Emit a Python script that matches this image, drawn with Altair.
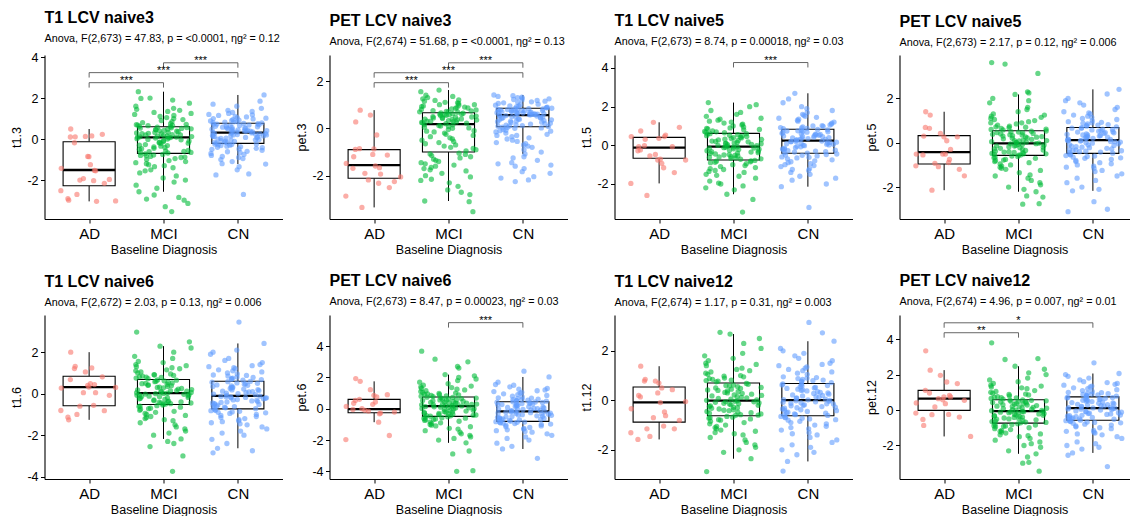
import altair as alt
import pandas as pd

FONT = "Liberation Sans"
GROUPS = ["AD", "MCI", "CN"]
COLORS = ["#F8766D", "#00BA38", "#619CFF"]

# ---------------- T1 LCV naive3 (t1.3) ----------------
t13_AD = [0.49, 0.11, 0.13, 0.15, 0.23, 0.1, -0.18, -0.86, -0.85, -1.25, -1.43, -1.53, -1.55, -1.93, -1.97,
          -2.0, -2.03, -2.16, -2.52, -2.7, -2.91, -2.98, -3.02, -3.04]
t13_MCI = [-0.65, -0.2, 0.05, -0.45, -0.1, -0.58, 0.0, -0.32, -0.68, -0.15, 0.07, -0.5, -0.27, -0.04, -0.62,
           -0.38, 0.02, -0.22, -0.55, -0.08, -0.41, -0.12, -0.66, -0.3, 0.06, -0.47, -0.18, -0.6, -0.35, -0.02,
           0.12, 0.45, 0.3, 0.58, 0.2, 0.38, 0.1, 0.52, 0.25, 0.15, 0.48, 0.33, 0.56, 0.18, 0.42, 0.09, 0.28, 0.5,
           0.22, 0.36, 0.55, 0.14, 0.4, 0.26, 0.6, 0.32, 0.11, 0.46, 0.2, 0.53,
           -0.8, -1.1, -0.75, -1.5, -0.9, -2.1, -1.3, -0.85, -1.8, -1.0, -2.4, -0.78, -1.2, -1.65, -0.95, -2.57,
           -1.4, -0.72, -1.05, -2.0, -1.25, -0.88, -1.55, -2.25, -1.15, -0.82, -1.9, -1.35,
           0.7, 1.0, 0.65, 1.4, 0.8, 1.9, 1.1, 0.75, 1.6, 0.9, 2.31, 0.68, 1.25, 1.5, 0.85, 1.98, 1.2, 0.62, 1.05,
           1.75, 1.3, 0.72, 1.45, 2.0, 0.95, 0.66, 1.15, 1.35,
           -2.98, -3.14, -3.54, -2.93, -2.73, -3.3, -2.85]
t13_CN = [-0.15, 0.2, 0.05, 0.28, -0.05, 0.12, -0.18, 0.25, 0.0, 0.15, -0.1, 0.3, 0.08, -0.2, 0.18, 0.03, 0.22,
          -0.12, 0.1, 0.27, -0.02, 0.16, -0.08, 0.24, 0.06, -0.16, 0.2, 0.13, -0.04, 0.29,
          0.35, 0.6, 0.45, 0.75, 0.4, 0.55, 0.33, 0.7, 0.5, 0.38, 0.65, 0.42, 0.72, 0.48, 0.58, 0.36, 0.63, 0.52,
          0.76, 0.44, 0.68, 0.34, 0.57, 0.47, 0.73, 0.39, 0.62, 0.54, 0.66, 0.41,
          -0.3, -0.5, -0.25, -0.8, -0.4, -1.0, -0.6, -0.28, -1.2, -0.45, -0.7, -0.35, -0.9, -0.24, -0.55, -1.1,
          -0.65, -0.32, -0.75, -0.48, -1.22, -0.38, -0.85, -0.27, -0.62, -0.95, -0.42,
          0.85, 1.1, 0.8, 1.5, 0.95, 1.3, 0.82, 2.15, 1.0, 1.2, 0.9, 1.85, 1.05, 0.88, 1.4, 1.15, 0.79, 1.25, 0.98,
          1.6, 0.84, 1.08, 1.35, 0.92, 1.18, 1.7, 1.02,
          -1.35, -1.5, -1.7, -1.75, -2.7]
t13_box = [[-3.04, -2.28, -1.51, -0.13, 0.49], [-2.57, -0.70, 0.08, 0.60, 2.31], [-1.22, -0.21, 0.31, 0.77, 2.15]]
t13_br = [("AD", "MCI", 2.75, "***"), ("AD", "CN", 3.24, "***"), ("MCI", "CN", 3.72, "***")]

# ---------------- PET LCV naive3 (pet.3) ----------------
p3_AD = [0.27, 0.77, 0.56, -0.28, -1.13, -0.89, -0.86, -0.87, -1.1, -1.59, -1.48, -1.66, -1.93, -2.18, -2.25,
         -1.9, -2.32, -2.5, -2.86, -3.34, -1.69, -1.2, -2.05]
p3_MCI = [-0.9, -0.3, 0.1, -0.6, -0.1, -0.8, 0.0, -0.45, 0.15, -0.2, -0.7, 0.05, -0.35, -0.95, -0.15, 0.12, -0.5,
          -0.25, -0.85, 0.08, -0.4, -0.05, -0.65, 0.16, -0.55, -0.12, -0.75, 0.02,
          0.2, 0.5, 0.35, 0.65, 0.25, 0.45, 0.3, 0.6, 0.4, 0.22, 0.55, 0.38, 0.62, 0.28, 0.48, 0.33, 0.58, 0.24,
          0.44, 0.52, 0.36, 0.64, 0.27, 0.42, 0.57, 0.31, 0.47, 0.6, 0.39, 0.54,
          -1.1, -1.5, -2.0, -1.2, -2.6, -1.35, -1.8, -1.05, -2.3, -1.6, -2.7, -1.15, -1.9, -1.4, -2.15, -3.07,
          -1.25, -1.7, -2.45, -1.08, -1.55, -2.05, -1.3, -2.8, -1.75, -1.45, -2.2, -1.65,
          0.7, 1.0, 0.8, 1.2, 0.75, 0.9, 1.3, 0.68, 1.1, 0.85, 1.55, 0.72, 0.95, 1.25, 0.78, 1.05, 0.88, 1.4, 0.7,
          1.15, 0.82, 1.0, 1.62, 0.74, 0.92, 1.18, 0.86, 1.08, 0.98, 1.35,
          -3.1, -3.52]
p3_CN = [0.1, 0.4, 0.25, 0.55, 0.15, 0.35, 0.5, 0.2, 0.45, 0.08, 0.3, 0.52, 0.18, 0.42, 0.28, 0.54, 0.12, 0.38,
         0.48, 0.22, 0.33, 0.5, 0.14, 0.44, 0.26, 0.53, 0.36, 0.09, 0.46, 0.31,
         0.6, 0.75, 0.65, 0.82, 0.58, 0.7, 0.8, 0.62, 0.77, 0.68, 0.84, 0.59, 0.72, 0.66, 0.79, 0.63, 0.74, 0.57,
         0.83, 0.69, 0.61, 0.76, 0.64, 0.81, 0.71, 0.6, 0.78, 0.67, 0.73, 0.85,
         0.0, -0.3, -0.1, -0.6, 0.05, -0.2, -0.8, -0.05, -0.45, -1.0, -0.15, -0.35, -0.7, 0.02, -0.25, -0.55,
         -1.08, -0.08, -0.4, -0.9, -0.12, -0.65, 0.04, -0.3, -0.5, -0.75,
         0.9, 1.2, 1.0, 1.35, 0.88, 1.1, 1.3, 0.95, 1.25, 1.05, 1.41, 0.92, 1.15, 1.28, 0.98, 1.38, 1.08, 0.87,
         1.22, 1.02, 1.32, 0.94, 1.12, 1.18,
         -1.2, -1.35, -1.5, -1.55, -1.7, -1.83, -2.04, -2.1, -2.18, -2.25, -1.25, -1.6, -1.45, -1.9]
p3_box = [[-3.34, -2.11, -1.55, -0.90, 0.77], [-3.07, -1.00, 0.18, 0.66, 1.62], [-1.08, 0.07, 0.56, 0.85, 1.41]]
p3_br = [("AD", "MCI", 1.93, "***"), ("AD", "CN", 2.35, "***"), ("MCI", "CN", 2.77, "***")]

# ---------------- T1 LCV naive5 (t1.5) ----------------
t15_AD = [0.74, 0.31, -0.47, -0.93, -0.07, -0.24, -0.02, 0.36, -0.76, -0.71, 0.45, 0.45, 0.53, 1.19, 0.93,
          -0.55, -1.16, -1.41, -1.97, -2.59, -0.28, -0.07, -0.76]
t15_MCI = [-0.7, -0.3, -0.1, -0.5, -0.2, -0.65, -0.4, -0.08, -0.55, -0.25, -0.72, -0.15, -0.45, -0.35, -0.6,
           -0.12, -0.28, -0.68, -0.38, -0.18, -0.52, -0.09, -0.42, -0.62, -0.22, -0.33, -0.48, -0.14, -0.58,
           0.0, 0.3, 0.1, 0.5, -0.05, 0.2, 0.45, 0.6, 0.05, 0.35, 0.15, 0.55, 0.25, -0.02, 0.4, 0.12, 0.58, 0.28,
           0.08, 0.48, 0.18, 0.38, 0.03, 0.52, 0.22, 0.42, 0.32, 0.6, 0.1,
           -0.85, -1.2, -0.9, -1.7, -1.0, -2.0, -0.8, -1.4, -2.3, -1.1, -0.95, -1.55, -2.53, -1.25, -0.82, -1.85,
           -1.05, -1.35, -2.1, -0.88, -1.6, -1.15, -1.95, -0.78, -1.3, -1.5, -2.2,
           0.7, 1.0, 0.65, 1.5, 0.8, 1.3, 2.0, 0.75, 1.1, 0.9, 1.7, 0.68, 1.2, 2.21, 0.85, 1.4, 0.95, 1.05, 1.8,
           0.72, 1.25, 1.6, 0.82, 1.15, 2.1, 0.88, 1.35,
           -2.8, -3.45]
t15_CN = [-0.35, 0.0, 0.2, -0.2, 0.1, -0.38, -0.05, 0.15, -0.28, 0.05, -0.12, 0.22, -0.3, 0.08, -0.18, 0.18,
          -0.4, -0.02, 0.12, -0.25, 0.02, -0.08, 0.2, -0.33, 0.06, -0.15, 0.16, -0.22,
          0.3, 0.6, 0.45, 0.8, 0.35, 0.7, 0.5, 0.28, 0.65, 0.4, 0.75, 0.55, 0.32, 0.82, 0.48, 0.62, 0.38, 0.72,
          0.27, 0.58, 0.42, 0.78, 0.52, 0.68, 0.36, 0.46, 0.74, 0.56,
          -0.5, -0.8, -1.2, -0.45, -1.6, -0.6, -1.0, -2.14, -0.7, -1.4, -0.55, -0.9, -1.8, -0.48, -1.1, -0.65,
          -1.3, -2.0, -0.75, -0.52, -1.5, -0.85, -1.05, -0.62, -1.7, -0.95, -1.25,
          0.9, 1.3, 1.0, 1.8, 0.88, 1.5, 2.2, 1.1, 0.95, 1.6, 2.69, 1.2, 0.86, 1.4, 2.0, 1.05, 1.7, 0.92, 1.25,
          2.4, 1.15, 1.35, 0.98, 1.9, 1.55, 1.45, 1.02,
          -3.21]
t15_box = [[-1.97, -0.67, -0.12, 0.41, 1.19], [-2.53, -0.76, -0.07, 0.62, 2.21], [-2.14, -0.41, 0.24, 0.83, 2.69]]
t15_br = [("MCI", "CN", 4.28, "***")]

# ---------------- PET LCV naive5 (pet.5) ----------------
p5_AD = [1.40, 1.25, 0.42, 0.09, 0.27, 0.69, 0.65, 0.27, -0.51, -0.51, -0.51, -0.75, -0.30, -1.08, -1.49,
         -0.93, -0.89, -1.20, -1.04, -2.14, -0.55, 0.3]
p5_MCI = [-0.5, -0.2, -0.05, -0.4, -0.1, -0.55, -0.3, -0.08, -0.45, -0.15, -0.35, -0.52, -0.25, -0.04, -0.42,
          -0.18, -0.48, -0.12, -0.33, -0.56, -0.22, -0.07, -0.38, -0.28, -0.5, -0.14, -0.44, -0.02,
          0.0, 0.3, 0.1, 0.5, 0.05, 0.2, 0.4, 0.15, 0.52, 0.25, 0.02, 0.35, 0.45, 0.12, 0.28, 0.48, 0.08, 0.38,
          0.18, 0.53, 0.22, 0.42, 0.03, 0.32, 0.1, 0.46, 0.26, 0.36,
          -0.65, -1.0, -0.7, -1.5, -0.8, -1.9, -0.62, -1.2, -2.21, -0.9, -1.35, -0.75, -1.7, -1.05, -0.6, -2.0,
          -1.15, -0.85, -1.45, -0.68, -1.6, -0.95, -2.1, -1.25, -0.78, -1.8, -1.1,
          0.6, 0.9, 0.65, 1.4, 0.75, 1.2, 1.9, 0.58, 1.0, 0.8, 1.6, 2.18, 0.7, 1.1, 0.85, 1.3, 2.0, 0.62, 0.95,
          1.5, 0.72, 1.8, 1.05, 0.9, 1.25, 0.68, 1.15,
          3.62, 3.55, 3.13, 2.3, 2.25, -2.77, -2.75, -2.45, -2.4]
p5_CN = [-0.4, -0.1, 0.1, -0.3, 0.0, -0.45, -0.2, 0.05, -0.35, -0.05, 0.08, -0.25, -0.42, -0.15, 0.11, -0.32,
         -0.02, -0.22, -0.47, 0.03, -0.12, -0.38, -0.18, 0.06, -0.28, -0.08, -0.36, 0.09,
         0.15, 0.4, 0.25, 0.6, 0.2, 0.5, 0.3, 0.68, 0.18, 0.45, 0.35, 0.55, 0.22, 0.62, 0.14, 0.38, 0.48, 0.28,
         0.65, 0.33, 0.52, 0.2, 0.42, 0.58, 0.27, 0.36, 0.66, 0.46,
         -0.55, -0.9, -0.6, -1.4, -0.7, -1.8, -0.52, -1.1, -2.17, -0.8, -1.25, -0.65, -1.6, -0.95, -0.58, -2.0,
         -1.05, -0.75, -1.5, -0.62, -1.3, -0.85, -2.1, -1.15, -0.68, -1.7, -1.0,
         0.75, 1.1, 0.8, 1.6, 0.9, 1.3, 2.0, 0.72, 1.2, 0.85, 1.8, 2.41, 0.95, 1.4, 0.78, 1.5, 1.0, 1.9, 0.88,
         1.25, 1.05, 1.7, 0.82, 1.15, 1.35, 0.92, 2.2,
         -2.66, -3.0, -3.11]
p5_box = [[-2.14, -0.96, -0.42, 0.32, 1.40], [-2.21, -0.57, -0.03, 0.54, 2.18], [-2.17, -0.48, 0.12, 0.69, 2.41]]
p5_br = []

# ---------------- T1 LCV naive6 (t1.6) ----------------
t16_AD = [2.0, 1.32, 1.05, 1.24, 0.81, 0.68, 1.21, 0.32, 0.4, 0.48, 0.27, 0.44, 0.05, 0.05, -0.08, -0.6, -0.56,
          -0.82, -0.81, -1.0, -1.13, -1.26, 0.3]
t16_MCI = [-0.45, -0.1, 0.0, -0.3, -0.05, -0.5, -0.2, 0.02, -0.38, -0.15, -0.48, -0.25, -0.02, -0.4, -0.12,
           -0.33, -0.08, -0.44, -0.18, 0.01, -0.28, -0.5, -0.22, -0.06, -0.36, -0.14, -0.42, -0.03,
           0.1, 0.4, 0.2, 0.6, 0.05, 0.3, 0.5, 0.15, 0.65, 0.25, 0.08, 0.45, 0.35, 0.55, 0.12, 0.28, 0.62, 0.18,
           0.42, 0.06, 0.52, 0.22, 0.38, 0.66, 0.32, 0.48, 0.14, 0.58,
           -0.6, -0.9, -0.65, -1.4, -0.75, -1.8, -0.55, -1.1, -2.18, -0.85, -1.25, -0.7, -1.6, -1.0, -0.58, -2.0,
           -1.15, -0.8, -1.5, -0.62, -1.3, -0.95, -1.9, -1.05, -0.72, -1.7, -1.2,
           0.75, 1.1, 0.8, 1.5, 0.9, 1.3, 2.0, 0.72, 1.2, 0.85, 1.7, 2.29, 0.95, 1.4, 0.78, 1.55, 1.0, 2.2, 0.88,
           1.25, 1.05, 1.8, 0.82, 1.15, 2.5, 0.92, 1.35,
           2.97, -2.55, -3.0, -3.74, -2.4, -2.3]
t16_CN = [-0.65, -0.3, -0.15, -0.5, -0.2, -0.7, -0.4, -0.12, -0.55, -0.25, -0.68, -0.35, -0.18, -0.6, -0.45,
          -0.13, -0.28, -0.62, -0.38, -0.22, -0.52, -0.16, -0.42, -0.72, -0.32, -0.48, -0.2, -0.58,
          -0.05, 0.3, 0.1, 0.5, 0.0, 0.2, 0.45, -0.08, 0.35, 0.15, 0.58, 0.05, 0.25, 0.4, -0.02, 0.55, 0.12, 0.32,
          0.02, 0.48, 0.22, 0.38, 0.08, 0.52, 0.18, 0.28, 0.42, 0.59,
          -0.8, -1.2, -0.85, -1.7, -0.95, -2.2, -0.78, -1.4, -2.63, -1.05, -1.5, -0.9, -1.9, -1.1, -0.82, -2.4,
          -1.3, -1.0, -1.6, -0.88, -1.45, -1.15, -2.0, -1.25, -0.92, -1.8, -1.35,
          0.7, 1.0, 0.65, 1.5, 0.8, 1.2, 2.0, 0.68, 1.1, 0.75, 1.6, 2.42, 0.9, 1.3, 0.72, 1.4, 0.95, 1.9, 0.85,
          1.15, 1.05, 1.7, 0.78, 2.1, 1.25, 0.88, 1.35,
          3.45, -2.75, -2.85]
t16_box = [[-1.26, -0.58, 0.32, 0.84, 2.0], [-2.18, -0.52, 0.03, 0.68, 2.29], [-2.63, -0.73, -0.11, 0.60, 2.42]]
t16_br = []

# ---------------- PET LCV naive6 (pet.6) ----------------
p6_AD = [1.93, 1.75, 1.22, 0.75, 0.9, 0.53, 0.6, 0.86, 0.28, 0.43, 0.15, -0.32, -0.28, -0.15, -0.21, -0.1,
         -0.86, -1.71, -1.97, 0.0, -0.05, 0.35]
p6_MCI = [-0.4, -0.1, 0.1, -0.3, 0.0, -0.45, -0.2, 0.15, -0.35, -0.05, 0.05, -0.25, -0.48, -0.15, 0.12, -0.38,
          0.02, -0.22, -0.42, 0.08, -0.12, -0.32, 0.14, -0.28, -0.02, -0.44, -0.18, 0.06,
          0.2, 0.5, 0.3, 0.7, 0.25, 0.6, 0.4, 0.18, 0.65, 0.35, 0.55, 0.22, 0.72, 0.45, 0.28, 0.62, 0.38, 0.52,
          0.24, 0.68, 0.33, 0.48, 0.58, 0.27, 0.42, 0.74, 0.36, 0.56,
          -0.55, -0.9, -0.6, -1.4, -0.7, -1.8, -0.52, -1.1, -2.18, -0.8, -1.25, -0.65, -1.6, -0.95, -0.58, -2.0,
          -1.05, -0.75, -1.5, -0.62, -1.3, -0.85, -1.9, -1.15, -0.68, -1.7, -1.0,
          0.8, 1.1, 0.85, 1.6, 0.9, 1.3, 2.0, 0.78, 1.2, 0.95, 1.8, 2.18, 1.0, 1.4, 0.82, 1.5, 1.05, 1.9, 0.88,
          1.25, 1.15, 1.7, 0.92, 1.35, 2.1, 0.98, 1.45,
          3.68, 3.17, 3.0, 2.7, 2.6, -2.89, -2.7, -3.96, -4.0]
p6_CN = [-0.75, -0.4, -0.2, -0.6, -0.3, -0.78, -0.5, -0.18, -0.65, -0.35, -0.8, -0.45, -0.25, -0.7, -0.55,
         -0.22, -0.38, -0.72, -0.48, -0.28, -0.62, -0.19, -0.52, -0.68, -0.33, -0.58, -0.42, -0.27,
         -0.1, 0.2, 0.0, 0.4, -0.05, 0.1, 0.35, -0.15, 0.25, 0.05, 0.44, -0.08, 0.15, 0.3, -0.02, 0.42, 0.08,
         0.22, -0.12, 0.38, 0.12, 0.28, 0.02, 0.33, 0.18, -0.06, 0.27, 0.43,
         -0.9, -1.2, -0.85, -1.7, -0.95, -2.2, -0.88, -1.4, -2.57, -1.05, -1.5, -0.92, -1.9, -1.1, -0.83, -2.4,
         -1.3, -1.0, -1.6, -0.87, -1.45, -1.15, -2.0, -1.25, -0.98, -1.8, -1.35,
         0.5, 0.8, 0.55, 1.3, 0.6, 1.0, 1.7, 0.48, 0.9, 0.65, 1.4, 2.03, 0.7, 1.1, 0.52, 1.2, 0.75, 1.55, 0.58,
         0.95, 0.85, 1.5, 0.62, 1.05, 1.25, 0.68, 1.15,
         2.4, -3.17]
p6_box = [[-0.86, -0.26, -0.02, 0.60, 1.75], [-2.18, -0.49, 0.17, 0.75, 2.18], [-2.57, -0.81, -0.17, 0.45, 2.03]]
p6_br = [("MCI", "CN", 5.50, "***")]

# ---------------- T1 LCV naive12 (t1.12) ----------------
t112_AD = [1.38, 0.85, 0.78, 0.5, 0.43, 0.14, 0.78, 0.70, 0.30, -0.09, -0.34, -0.47, -0.62, -0.7, -0.81, -1.46,
           -1.04, -1.15, -1.31, -1.15, -1.58, 0.2, -0.05]
t112_MCI = [-0.55, -0.2, -0.05, -0.4, -0.1, -0.6, -0.3, -0.02, -0.48, -0.15, -0.58, -0.25, -0.08, -0.5, -0.35,
            -0.12, -0.45, -0.18, -0.6, -0.28, -0.04, -0.38, -0.22, -0.52, -0.14, -0.32, -0.42, -0.06,
            0.05, 0.4, 0.2, 0.6, 0.0, 0.3, 0.5, 0.1, 0.68, 0.25, 0.45, 0.15, 0.55, 0.35, 0.02, 0.62, 0.22, 0.42,
            0.08, 0.52, 0.28, 0.65, 0.12, 0.38, 0.58, 0.18, 0.48, 0.32,
            -0.7, -1.0, -0.75, -1.5, -0.85, -1.9, -0.68, -1.2, -2.36, -0.9, -1.35, -0.8, -1.7, -1.05, -0.65, -2.1,
            -1.15, -0.95, -1.6, -0.72, -1.4, -1.1, -2.0, -1.25, -0.78, -1.8, -1.3,
            0.8, 1.1, 0.75, 1.7, 0.9, 1.4, 2.3, 0.78, 1.2, 0.85, 1.9, 2.68, 1.0, 1.5, 0.82, 1.6, 1.05, 2.1, 0.95,
            1.3, 1.15, 1.8, 0.88, 1.25, 2.5, 0.98, 1.45,
            -2.88, 2.75]
t112_CN = [-0.55, -0.2, -0.02, -0.4, -0.1, -0.6, -0.3, 0.0, -0.48, -0.15, -0.58, -0.25, -0.06, -0.5, -0.35,
           -0.12, -0.45, -0.18, -0.61, -0.28, -0.04, -0.38, -0.22, -0.52, -0.14, -0.32, -0.42, -0.08,
           0.05, 0.4, 0.2, 0.6, 0.02, 0.3, 0.5, 0.1, 0.66, 0.25, 0.45, 0.15, 0.55, 0.35, 0.03, 0.62, 0.22, 0.42,
           0.08, 0.52, 0.28, 0.64, 0.12, 0.38, 0.58, 0.18, 0.48, 0.32,
           -0.7, -1.0, -0.75, -1.6, -0.85, -2.0, -0.68, -1.2, -2.47, -0.9, -1.4, -0.8, -1.8, -1.05, -0.65, -2.2,
           -1.15, -0.95, -1.7, -0.72, -1.5, -1.1, -2.1, -1.3, -0.78, -1.9, -1.35,
           0.75, 1.1, 0.8, 1.6, 0.9, 1.3, 2.0, 0.72, 1.2, 0.85, 1.8, 2.39, 0.95, 1.4, 0.78, 1.5, 1.05, 2.1, 0.88,
           1.25, 1.15, 1.7, 0.82, 1.35, 1.9, 0.92, 1.45,
           3.15, 2.73, -2.86]
t112_box = [[-1.58, -0.88, -0.08, 0.54, 1.38], [-2.36, -0.62, -0.01, 0.70, 2.68], [-2.47, -0.62, 0.01, 0.68, 2.39]]
t112_br = []

# ---------------- PET LCV naive12 (pet.12) ----------------
p12_AD = [3.34, 2.25, 1.96, 1.58, 1.49, 1.11, 0.96, 0.74, 0.58, 0.36, 0.40, 0.83, 0.74, 0.64, 0.55, 0.17, -0.25,
          -0.40, -0.17, -0.26, -0.53, -0.87, -1.49]
p12_MCI = [-0.7, -0.3, -0.1, -0.5, -0.2, -0.72, -0.4, -0.08, -0.6, -0.25, -0.68, -0.35, -0.12, -0.55, -0.45,
           -0.15, -0.65, -0.28, -0.07, -0.48, -0.38, -0.18, -0.62, -0.32, -0.1, -0.52, -0.42, -0.22,
           0.0, 0.3, 0.1, 0.5, -0.04, 0.2, 0.45, 0.05, 0.55, 0.25, 0.38, 0.12, 0.57, 0.35, -0.02, 0.48, 0.18, 0.42,
           0.08, 0.52, 0.28, 0.15, 0.4, 0.02, 0.32, 0.22, 0.47, 0.56,
           -0.8, -1.1, -0.85, -1.7, -0.95, -2.1, -0.78, -1.3, -2.47, -1.0, -1.5, -0.9, -1.9, -1.15, -0.82, -2.3,
           -1.25, -1.05, -1.6, -0.88, -1.45, -1.2, -2.0, -1.35, -0.92, -1.8, -1.4,
           0.65, 1.0, 0.7, 1.6, 0.8, 1.3, 2.1, 0.62, 1.1, 0.75, 1.8, 2.47, 0.9, 1.4, 0.68, 1.5, 0.95, 2.0, 0.85,
           1.2, 1.05, 1.7, 0.72, 1.25, 2.3, 0.88, 1.35,
           3.79, 2.85, 2.9, -2.65, -2.95, -3.0, -3.45]
p12_CN = [-0.5, -0.2, 0.05, -0.4, -0.1, -0.55, -0.3, 0.1, -0.45, -0.15, -0.57, -0.25, 0.0, -0.48, -0.35, -0.05,
          -0.42, -0.18, 0.08, -0.28, -0.52, -0.08, -0.38, -0.22, 0.03, -0.32, -0.12, 0.06,
          0.15, 0.5, 0.3, 0.7, 0.12, 0.4, 0.6, 0.2, 0.72, 0.35, 0.55, 0.25, 0.65, 0.45, 0.13, 0.68, 0.32, 0.52,
          0.18, 0.62, 0.38, 0.73, 0.22, 0.48, 0.58, 0.28, 0.42, 0.66,
          -0.65, -1.0, -0.7, -1.6, -0.8, -2.0, -0.62, -1.2, -2.42, -0.9, -1.4, -0.75, -1.8, -1.05, -0.6, -2.2,
          -1.15, -0.85, -1.5, -0.68, -1.3, -0.95, -2.1, -1.25, -0.72, -1.9, -1.35,
          0.8, 1.1, 0.85, 1.5, 0.9, 1.3, 1.9, 0.78, 1.2, 0.95, 1.7, 2.06, 1.0, 1.4, 0.82, 1.45, 1.05, 2.0, 0.88,
          1.25, 1.15, 1.6, 0.92, 1.35, 1.8, 0.98, 1.55,
          2.66, -3.19, -2.55]
p12_box = [[-1.49, -0.02, 0.64, 1.11, 2.25], [-2.47, -0.74, -0.06, 0.58, 2.47], [-2.42, -0.58, 0.11, 0.74, 2.06]]
p12_br = [("AD", "MCI", 4.36, "**"), ("AD", "CN", 4.92, "*")]

PANELS = [
    dict(title="T1 LCV naive3", sub="Anova, F(2,673) = 47.83, p = <0.0001, ηg² = 0.12", ytitle="t1.3",
         vals=[t13_AD, t13_MCI, t13_CN], box=t13_box, br=t13_br, dom=[-3.90, 4.10], ticks=[-2, 0, 2, 4]),
    dict(title="PET LCV naive3", sub="Anova, F(2,674) = 51.68, p = <0.0001, ηg² = 0.13", ytitle="pet.3",
         vals=[p3_AD, p3_MCI, p3_CN], box=p3_box, br=p3_br, dom=[-3.83, 3.10], ticks=[-2, 0, 2]),
    dict(title="T1 LCV naive5", sub="Anova, F(2,673) = 8.74, p = 0.00018, ηg² = 0.03", ytitle="t1.5",
         vals=[t15_AD, t15_MCI, t15_CN], box=t15_box, br=t15_br, dom=[-3.81, 4.67], ticks=[-2, 0, 2, 4]),
    dict(title="PET LCV naive5", sub="Anova, F(2,673) = 2.17, p = 0.12, ηg² = 0.006", ytitle="pet.5",
         vals=[p5_AD, p5_MCI, p5_CN], box=p5_box, br=p5_br, dom=[-3.44, 3.96], ticks=[-2, 0, 2]),
    dict(title="T1 LCV naive6", sub="Anova, F(2,672) = 2.03, p = 0.13, ηg² = 0.006", ytitle="t1.6",
         vals=[t16_AD, t16_MCI, t16_CN], box=t16_box, br=t16_br, dom=[-4.11, 3.79], ticks=[-4, -2, 0, 2]),
    dict(title="PET LCV naive6", sub="Anova, F(2,673) = 8.47, p = 0.00023, ηg² = 0.03", ytitle="pet.6",
         vals=[p6_AD, p6_MCI, p6_CN], box=p6_box, br=p6_br, dom=[-4.49, 5.99], ticks=[-4, -2, 0, 2, 4]),
    dict(title="T1 LCV naive12", sub="Anova, F(2,674) = 1.17, p = 0.31, ηg² = 0.003", ytitle="t1.12",
         vals=[t112_AD, t112_MCI, t112_CN], box=t112_box, br=t112_br, dom=[-3.18, 3.45], ticks=[-2, 0, 2]),
    dict(title="PET LCV naive12", sub="Anova, F(2,674) = 4.96, p = 0.007, ηg² = 0.01", ytitle="pet.12",
         vals=[p12_AD, p12_MCI, p12_CN], box=p12_box, br=p12_br, dom=[-3.89, 5.36], ticks=[-2, 0, 2, 4]),
]

PLOT_W = 238
PLOT_H = 164
UNIT = PLOT_W / 3.2


def make_panel(p, width):
    xmax = 0.4 + width / UNIT
    rows = []
    for gi, (g, vals) in enumerate(zip(GROUPS, p["vals"]), start=1):
        for k, v in enumerate(vals):
            rows.append({"grp": g, "gi": gi, "k": k, "val": v})
    pts = pd.DataFrame(rows)
    bx = pd.DataFrame([{"grp": g, "gi": i + 1, "xa": i + 1 - 0.35, "xb": i + 1 + 0.35,
                        "wl": b[0], "q1": b[1], "med": b[2], "q3": b[3], "wh": b[4]}
                       for i, (g, b) in enumerate(zip(GROUPS, p["box"]))])
    span = p["dom"][1] - p["dom"][0]

    xs = alt.Scale(domain=[0.4, xmax], nice=False, zero=False)
    ys = alt.Scale(domain=p["dom"], nice=False, zero=False)
    xax = alt.Axis(values=[1, 2, 3],
                   labelExpr="datum.value == 1 ? 'AD' : datum.value == 2 ? 'MCI' : 'CN'",
                   title="Baseline Diagnosis", grid=False, labelFont=FONT, labelFontSize=15,
                   labelColor="black", labelPadding=3, tickSize=4, tickColor="black", tickWidth=1,
                   domainColor="black", domainWidth=1.1, titleFont=FONT, titleFontSize=12.5,
                   titleFontWeight="normal", titleColor="black", titlePadding=2.3, labelAngle=0)
    yax = alt.Axis(values=p["ticks"], labelExpr="'' + datum.value", title=p["ytitle"], grid=False,
                   labelFont=FONT, labelFontSize=12.5, labelColor="black", labelPadding=2.5, tickSize=4,
                   tickColor="black", tickWidth=1, domainColor="black", domainWidth=1.1, titleFont=FONT,
                   titleFontSize=12.5, titleFontWeight="normal", titleColor="black", titlePadding=3,
                   minExtent=18, maxExtent=18)

    def X(f):
        return alt.X(f, type="quantitative", scale=xs, axis=xax)

    def Y(f):
        return alt.Y(f, type="quantitative", scale=ys, axis=yax)

    bc = alt.Chart(bx)
    wl = bc.mark_rule(color="black", strokeWidth=1).encode(x=X("gi"), y=Y("wl"), y2="q1")
    wh = bc.mark_rule(color="black", strokeWidth=1).encode(x=X("gi"), y=Y("q3"), y2="wh")
    rect = bc.mark_rect(fill="white", stroke="black", strokeWidth=1.1).encode(
        x=X("xa"), x2="xb", y=Y("q1"), y2="q3")
    med = bc.mark_rule(color="black", strokeWidth=2.3).encode(x=X("xa"), x2="xb", y=Y("med"))
    dots = alt.Chart(pts).transform_calculate(
        xj="datum.gi + 0.78 * ((abs(sin(datum.k * 12.9898 + datum.gi * 78.233)) * 43758.5453) % 1 - 0.5)"
    ).mark_circle(size=28, opacity=0.6).encode(
        x=X("xj"), y=Y("val"),
        color=alt.Color("grp:N", scale=alt.Scale(domain=GROUPS, range=COLORS), legend=None))
    layers = [wl, wh, rect, med, dots]

    if p["br"]:
        br = pd.DataFrame([{"xa": GROUPS.index(a) + 1, "xb": GROUPS.index(b) + 1,
                            "xm": (GROUPS.index(a) + GROUPS.index(b) + 2) / 2,
                            "y": y, "yt": y - 0.03 * span, "lab": lab} for a, b, y, lab in p["br"]])
        bch = alt.Chart(br)
        layers += [
            bch.mark_rule(color="#555555", strokeWidth=0.9).encode(x=X("xa"), x2="xb", y=Y("y")),
            bch.mark_rule(color="#555555", strokeWidth=0.9).encode(x=X("xa"), y=Y("yt"), y2="y"),
            bch.mark_rule(color="#555555", strokeWidth=0.9).encode(x=X("xb"), y=Y("yt"), y2="y"),
            bch.mark_text(font=FONT, fontSize=11, color="black", baseline="alphabetic", dy=1).encode(
                x=X("xm"), y=Y("y"), text="lab:N"),
        ]

    return alt.layer(*layers).properties(
        width=width, height=PLOT_H,
        title=alt.TitleParams(text=p["title"], subtitle=p["sub"], anchor="start", frame="group",
                              font=FONT, fontSize=16, fontWeight="bold", color="black",
                              subtitleFont=FONT, subtitleFontSize=10.8, subtitleColor="black",
                              subtitlePadding=6.9, offset=7.7))


charts = []
for i, p in enumerate(PANELS):
    w = PLOT_W if i % 4 != 3 else 230
    charts.append(make_panel(p, w))

chart = alt.concat(*charts, columns=4, spacing={"row": 96, "column": 47}, bounds="flush").resolve_scale(
    x="independent", y="independent", color="shared"
).properties(
    padding={"left": 10.5, "top": 9, "right": 0, "bottom": 0},
    background="white",
).configure_view(strokeWidth=0, stroke="transparent")

chart.save("out.html", embed_options={"renderer": "svg", "actions": False})
